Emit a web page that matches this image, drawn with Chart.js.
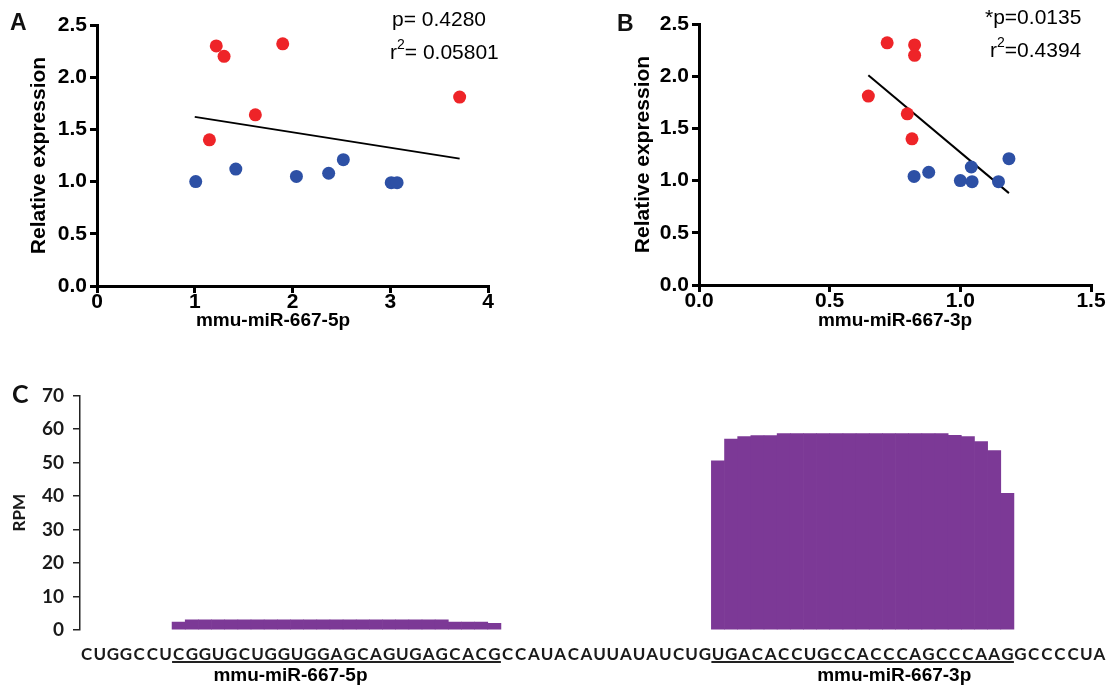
<!DOCTYPE html>
<html>
<head>
<meta charset="utf-8">
<script src="https://cdn.jsdelivr.net/npm/chart.js@4.4.1/dist/chart.umd.min.js"></script>
<style>
  html, body { margin: 0; padding: 0; background: #fff; overflow: hidden; }
  body { width: 1106px; height: 686px; position: relative; }
  .panel { position: absolute; }
  .letter { position: absolute; font: bold 23px "Liberation Sans", Arial, sans-serif; color: #111; line-height: 26px; }
</style>
</head>
<body>
<div class="panel" style="left:0;top:0;width:540px;height:340px"><canvas id="chartA"></canvas></div>
<div class="panel" style="left:560px;top:0;width:546px;height:340px"><canvas id="chartB"></canvas></div>
<div class="panel" style="left:0;top:375px;width:1106px;height:311px"><canvas id="chartC"></canvas></div>
<div class="letter" style="left:10px;top:9px">A</div>
<div class="letter" style="left:617px;top:10px">B</div>
<div class="letter" style="left:12px;top:380px;font-family:Lato;font-size:25px">C</div>

<script>
// Panel A: relative expression vs mmu-miR-667-5p
const redX5p = [1.22, 1.30, 1.90, 1.62, 1.15, 3.71];
const redYA = [2.30, 2.20, 2.32, 1.64, 1.40, 1.81];
const blueX5p = [1.01, 1.42, 2.04, 2.37, 2.52, 3.01, 3.07];
const blueYA = [1.00, 1.12, 1.05, 1.08, 1.21, 0.99, 0.99];
const fitX5p = [1.00, 3.71];
const fitYA = [1.62, 1.22];

// Panel B: relative expression vs mmu-miR-667-3p
const redX3p = [0.72, 0.825, 0.825, 0.648, 0.797, 0.815];
const redYB = [2.32, 2.30, 2.20, 1.81, 1.64, 1.40];
const blueX3p = [0.823, 0.879, 1.00, 1.045, 1.042, 1.146, 1.186];
const blueYB = [1.04, 1.08, 1.00, 0.99, 1.13, 0.99, 1.21];
const fitX3p = [0.648, 1.186];
const fitYB = [2.01, 0.88];

// Panel C: read coverage along the precursor (null = no reads)
const precursor = ('CUGGCCU' + 'CGGUGCUGGUGGAGCAGUGAGCACG' + 'CCAUACAUUAUAUCUG' +
                   'UGACACCUGCCACCCAGCCCAAG' + 'GCCCCUA').split('');
const rpm = [
  null, null, null, null, null, null, null,
  2.4,
  3.0, 3.0, 3.0, 3.0, 3.0, 3.0, 3.0, 3.0, 3.0, 3.0,
  3.0, 3.0, 3.0, 3.0, 3.0, 3.0, 3.0, 3.0, 3.0, 3.0,
  2.4, 2.4, 2.4,
  2.0,
  null, null, null, null, null, null, null, null,
  null, null, null, null, null, null, null, null,
  50.5, 57.0, 57.7, 58.0, 58.0,
  58.6, 58.6, 58.6, 58.6, 58.6, 58.6, 58.6, 58.6, 58.6, 58.6, 58.6, 58.6, 58.6,
  58.1, 57.7, 56.2, 53.5, 40.8,
  null, null, null, null, null, null, null
];
const armNames = ['mmu-miR-667-5p', 'mmu-miR-667-3p'];
const armStart = [7, 48];
const armEnd = [31, 70];
const armLabelAt = [15.5, 61.4];

const RED = 'rgb(238,36,40)';
const BLUE = 'rgb(45,80,165)';
const PURPLE = '#7c3996';
const INK = '#000000';
const SANS = 'Liberation Sans';

function toPoints(xs, ys) {
    return xs.map((x, i) => ({ x: x, y: ys[i] }));
}

// Draw free text items (stats, x titles) on a chart canvas
function makeCaptions(items) {
    return {
        id: 'captions',
        afterDraw(chart) {
            const ctx = chart.ctx;
            items.forEach(item => {
                ctx.save();
                ctx.fillStyle = INK;
                ctx.textBaseline = 'middle';
                ctx.textAlign = 'left';
                let total = 0;
                item.parts.forEach(p => {
                    ctx.font = p.font;
                    total += ctx.measureText(p.text).width;
                });
                let x = item.align === 'center' ? item.x - total / 2 : item.x;
                item.parts.forEach(p => {
                    ctx.font = p.font;
                    ctx.fillText(p.text, x, item.y + (p.dy || 0));
                    x += ctx.measureText(p.text).width;
                });
                ctx.restore();
            });
        }
    };
}

function statLines(x1, y1, pText, x2, y2, rText) {
    const f = '21px "' + SANS + '"';
    return [
        { x: x1, y: y1, parts: [{ text: pText, font: f }] },
        { x: x2, y: y2, parts: [
            { text: 'r', font: f },
            { text: '2', font: '14px "' + SANS + '"', dy: -8 },
            { text: rText, font: f }
        ] }
    ];
}

function scatterDatasets(redX, redY, blueX, blueY, fitX, fitY) {
    return [
        { data: toPoints(redX, redY), backgroundColor: RED, borderColor: RED, borderWidth: 0, pointRadius: 6.5 },
        { data: toPoints(blueX, blueY), backgroundColor: BLUE, borderColor: BLUE, borderWidth: 0, pointRadius: 6.5 },
        { type: 'line', data: toPoints(fitX, fitY), borderColor: INK, borderWidth: 2,
          pointRadius: 0, showLine: true }
    ];
}

function scatterOptions(cfg) {
    const tickFont = { family: SANS, weight: 'bold', size: 21 };
    return {
        responsive: true,
        maintainAspectRatio: false,
        animation: false,
        layout: { padding: cfg.padding },
        plugins: { legend: { display: false }, tooltip: { enabled: false } },
        scales: {
            x: {
                type: 'linear',
                min: cfg.xMin,
                max: cfg.xMax,
                afterFit: s => { s.height = cfg.xHeight; },
                border: { display: true, color: INK, width: 3 },
                grid: { drawOnChartArea: false, color: INK, lineWidth: 3, tickLength: 7 },
                ticks: {
                    stepSize: cfg.xStep,
                    color: INK,
                    padding: -3,
                    font: tickFont,
                    callback: v => Number(v).toFixed(cfg.xDigits)
                }
            },
            y: {
                type: 'linear',
                min: 0,
                max: 2.5,
                afterFit: s => { s.width = cfg.yWidth; },
                border: { display: true, color: INK, width: 3 },
                grid: { drawOnChartArea: false, color: INK, lineWidth: 3, tickLength: 7 },
                ticks: {
                    stepSize: 0.5,
                    color: INK,
                    padding: 3,
                    font: tickFont,
                    callback: v => Number(v).toFixed(1)
                },
                title: {
                    display: true,
                    text: 'Relative expression',
                    color: INK,
                    font: { family: SANS, weight: 'bold', size: 21 },
                    padding: { top: cfg.yTitlePad, bottom: 0 }
                }
            }
        }
    };
}

const xTitleFont = 'bold 19px "' + SANS + '"';

new Chart(document.getElementById('chartA'), {
    type: 'scatter',
    data: { datasets: scatterDatasets(redX5p, redYA, blueX5p, blueYA, fitX5p, fitYA) },
    options: scatterOptions({
        padding: { top: 25, right: 52, bottom: 0, left: 0 },
        xMin: 0, xMax: 4, xStep: 1, xDigits: 0,
        xHeight: 54, yWidth: 97, yTitlePad: 27
    }),
    plugins: [makeCaptions([
        ...statLines(392, 20, 'p= 0.4280', 390, 53, '= 0.05801'),
        { x: 273, y: 321, align: 'center', parts: [{ text: 'mmu-miR-667-5p', font: xTitleFont }] }
    ])]
});

new Chart(document.getElementById('chartB'), {
    type: 'scatter',
    data: { datasets: scatterDatasets(redX3p, redYB, blueX3p, blueYB, fitX3p, fitYB) },
    options: scatterOptions({
        padding: { top: 24, right: 15, bottom: 0, left: 0 },
        xMin: 0, xMax: 1.5, xStep: 0.5, xDigits: 1,
        xHeight: 55, yWidth: 139, yTitlePad: 71
    }),
    plugins: [makeCaptions([
        ...statLines(425, 18, '*p=0.0135', 430, 51, '=0.4394'),
        { x: 335, y: 321, align: 'center', parts: [{ text: 'mmu-miR-667-3p', font: xTitleFont }] }
    ])]
});

// Underlines and names of the two mature arms
const armPlugin = {
    id: 'arms',
    afterDraw(chart) {
        const ctx = chart.ctx;
        const sx = chart.scales.x;
        const pitch = sx.width / precursor.length;
        ctx.save();
        ctx.strokeStyle = '#222';
        ctx.lineWidth = 2;
        ctx.fillStyle = INK;
        ctx.font = 'bold 19px "' + SANS + '"';
        ctx.textAlign = 'center';
        ctx.textBaseline = 'middle';
        armNames.forEach((name, i) => {
            const x1 = sx.getPixelForValue(armStart[i]) - pitch / 2;
            const x2 = sx.getPixelForValue(armEnd[i]) + pitch / 2;
            const y = sx.top + 32;
            ctx.beginPath();
            ctx.moveTo(x1, y);
            ctx.lineTo(x2, y);
            ctx.stroke();
            ctx.fillText(name, sx.getPixelForValue(armLabelAt[i]), sx.top + 46);
        });
        ctx.restore();
    }
};

new Chart(document.getElementById('chartC'), {
    type: 'bar',
    data: {
        labels: precursor,
        datasets: [{
            data: rpm,
            backgroundColor: PURPLE,
            borderWidth: 0,
            barPercentage: 1,
            categoryPercentage: 1
        }]
    },
    options: {
        responsive: true,
        maintainAspectRatio: false,
        animation: false,
        layout: { padding: { top: 17, right: 0, bottom: 0, left: 0 } },
        plugins: { legend: { display: false }, tooltip: { enabled: false } },
        scales: {
            x: {
                afterFit: s => { s.height = 56; },
                border: { display: false },
                grid: { display: false, drawTicks: true, tickLength: 14 },
                ticks: {
                    autoSkip: false,
                    maxRotation: 0,
                    minRotation: 0,
                    padding: 0,
                    color: '#1a1a1a',
                    font: { family: 'Lato', weight: 'bold', size: 17 }
                }
            },
            y: {
                min: 0,
                max: 70,
                afterFit: s => { s.width = 80; },
                border: { color: '#222', width: 1.5 },
                grid: { drawOnChartArea: false, color: '#222', lineWidth: 1.5, tickLength: 7 },
                ticks: {
                    stepSize: 10,
                    padding: 9,
                    color: '#1a1a1a',
                    font: { family: 'Lato', weight: 'bold', size: 19 }
                },
                title: {
                    display: true,
                    text: 'RPM',
                    color: '#1a1a1a',
                    font: { family: 'Lato', weight: 'bold', size: 17 },
                    padding: { top: 9, bottom: 0 }
                }
            }
        }
    },
    plugins: [armPlugin]
});
</script>
</body>
</html>
